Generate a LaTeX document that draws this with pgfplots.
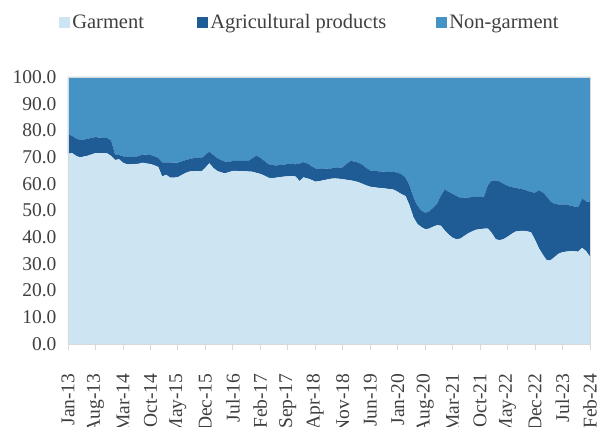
\documentclass[border=0pt]{standalone}
\usepackage{fontspec}
\setmainfont{Liberation Serif}
\usepackage{pgfplots}
\usepackage{pgfplotstable}
\pgfplotsset{compat=1.18}
\definecolor{garment}{HTML}{CDE5F3}
\definecolor{agri}{HTML}{1F5C96}
\definecolor{nongarment}{HTML}{4592C4}
\definecolor{txt}{HTML}{404040}
\definecolor{gridgray}{HTML}{D9D9D9}

% month index (0 = Jan-13), garment, agricultural, non-garment (% shares)
\pgfplotstableread{
i G A N
0 71.2 7.3 21.5
1 71.6 6.4 22.0
2 70.5 6.5 23.0
3 69.9 6.5 23.6
4 70.2 6.4 23.4
5 70.5 6.3 23.2
6 71.0 6.2 22.8
7 71.5 6.0 22.5
8 71.5 5.8 22.7
9 71.5 5.7 22.8
10 71.4 5.7 22.9
11 70.4 5.8 23.8
12 68.9 2.0 29.1
13 69.2 1.6 29.2
14 67.9 2.4 29.7
15 67.3 2.7 30.0
16 67.3 2.7 30.0
17 67.4 2.7 29.9
18 67.5 2.9 29.6
19 67.9 3.1 29.0
20 67.6 3.3 29.1
21 67.4 3.4 29.2
22 66.9 3.4 29.7
23 66.3 3.4 30.3
24 62.7 5.3 32.0
25 63.4 4.6 32.0
26 62.3 5.7 32.0
27 62.3 5.6 32.1
28 62.5 5.4 32.1
29 63.3 5.1 31.6
30 64.1 4.8 31.1
31 64.6 4.7 30.7
32 64.7 4.9 30.4
33 64.8 5.0 30.2
34 64.6 5.0 30.4
35 66.0 4.8 29.2
36 67.7 4.3 28.0
37 66.0 4.8 29.2
38 64.8 4.8 30.4
39 64.3 4.6 31.1
40 63.9 4.4 31.7
41 64.4 3.8 31.8
42 64.8 3.8 31.4
43 64.8 3.8 31.4
44 64.7 3.9 31.4
45 64.7 3.9 31.4
46 64.6 4.0 31.4
47 64.5 5.1 30.4
48 64.1 6.5 29.4
49 63.7 6.0 30.3
50 63.1 5.5 31.4
51 62.3 5.1 32.6
52 62.1 4.9 33.0
53 62.3 4.6 33.1
54 62.5 4.5 33.0
55 62.7 4.5 32.8
56 62.8 4.6 32.6
57 62.9 4.5 32.6
58 62.7 4.6 32.7
59 61.0 6.6 32.4
60 62.4 5.7 31.9
61 62.0 5.6 32.4
62 61.5 5.1 33.4
63 60.8 5.0 34.2
64 61.0 4.5 34.5
65 61.3 4.3 34.4
66 61.6 4.1 34.3
67 61.9 3.9 34.2
68 62.0 3.9 34.1
69 61.9 4.1 34.0
70 61.7 4.5 33.8
71 61.5 6.0 32.5
72 61.3 7.3 31.4
73 61.0 7.3 31.7
74 60.6 7.3 32.1
75 60.0 7.1 32.9
76 59.4 6.5 34.1
77 58.9 6.1 35.0
78 58.7 6.1 35.2
79 58.5 6.2 35.3
80 58.4 6.2 35.4
81 58.2 6.3 35.5
82 58.0 6.4 35.6
83 57.8 6.6 35.6
84 57.0 7.2 35.8
85 56.1 7.4 36.5
86 55.4 6.8 37.8
87 52.0 7.5 40.5
88 47.5 7.5 45.0
89 45.0 6.8 48.2
90 43.8 6.2 50.0
91 43.0 6.2 50.8
92 43.2 6.4 50.4
93 43.9 7.1 49.0
94 44.5 7.9 47.6
95 44.3 11.2 44.5
96 42.5 15.3 42.2
97 41.0 16.0 43.0
98 39.8 16.4 43.8
99 39.2 16.2 44.6
100 39.5 15.2 45.3
101 40.5 14.3 45.2
102 41.5 13.4 45.1
103 42.2 12.8 45.0
104 42.8 12.2 45.0
105 43.0 12.1 44.9
106 43.2 12.0 44.8
107 43.2 16.3 40.5
108 41.5 19.7 38.8
109 39.2 22.1 38.7
110 38.9 21.9 39.2
111 39.3 20.7 40.0
112 40.2 19.0 40.8
113 41.2 17.6 41.2
114 42.1 16.4 41.5
115 42.3 15.9 41.8
116 42.4 15.5 42.1
117 42.2 15.2 42.6
118 41.8 15.1 43.1
119 39.0 17.7 43.3
120 35.8 21.8 42.4
121 33.4 23.3 43.3
122 31.3 23.9 44.8
123 31.4 21.9 46.7
124 32.6 19.8 47.6
125 33.8 18.5 47.7
126 34.4 17.9 47.7
127 34.6 17.6 47.8
128 34.8 17.0 48.2
129 34.7 16.8 48.5
130 34.6 16.6 48.8
131 36.0 18.5 45.5
132 34.8 18.6 46.6
133 32.7 20.5 46.8
}\shares

\begin{document}
\begin{tikzpicture}
\begin{axis}[
  scale only axis, width=522pt, height=267pt,
  at={(0pt,0pt)}, anchor=south west,
  xmin=0, xmax=133, ymin=0, ymax=100,
  stack plots=y, area style,
  font=\fontsize{19.5}{22}\selectfont, text=txt,
  axis line style={draw=gridgray},
  xtick={0,7,...,133},
  xticklabels={Jan-13,Aug-13,Mar-14,Oct-14,May-15,Dec-15,Jul-16,Feb-17,Sep-17,Apr-18,Nov-18,Jun-19,Jan-20,Aug-20,Mar-21,Oct-21,May-22,Dec-22,Jul-23,Feb-24},
  xtick pos=bottom, tick align=outside,
  major tick length=6pt,
  x tick style={draw=gridgray, line width=0.8pt},
  xticklabel style={yshift=-20pt, rotate=90, anchor=east},
  ytick={0,10,...,100},
  ytick style={draw=none},
  yticklabel style={/pgf/number format/fixed, /pgf/number format/fixed zerofill,
    /pgf/number format/precision=1, /pgf/number format/assume math mode=true, xshift=-2pt},
  legend style={at={(-0.018,1.205)}, anchor=west, draw=none, fill=none,
    inner sep=0pt, legend columns=3, font=\fontsize{20.5}{23}\selectfont, text=txt,
    nodes={inner sep=2.5pt}, column sep=0pt},
  legend image code/.code={\fill[#1] (0pt,-5.5pt) rectangle (11pt,5.5pt);},
]
\addplot[fill=garment, draw=none] table[x=i, y=G] {\shares} \closedcycle;
\addplot[fill=agri, draw=none] table[x=i, y=A] {\shares} \closedcycle;
\addplot[fill=nongarment, draw=none] table[x=i, y=N] {\shares} \closedcycle;
\legend{\makebox[122pt][l]{Garment}, \makebox[223pt][l]{Agricultural products}, Non-garment}
\end{axis}
\pgfresetboundingbox
\path (-68pt,-83pt) rectangle (530pt,344pt);
\end{tikzpicture}
\end{document}
